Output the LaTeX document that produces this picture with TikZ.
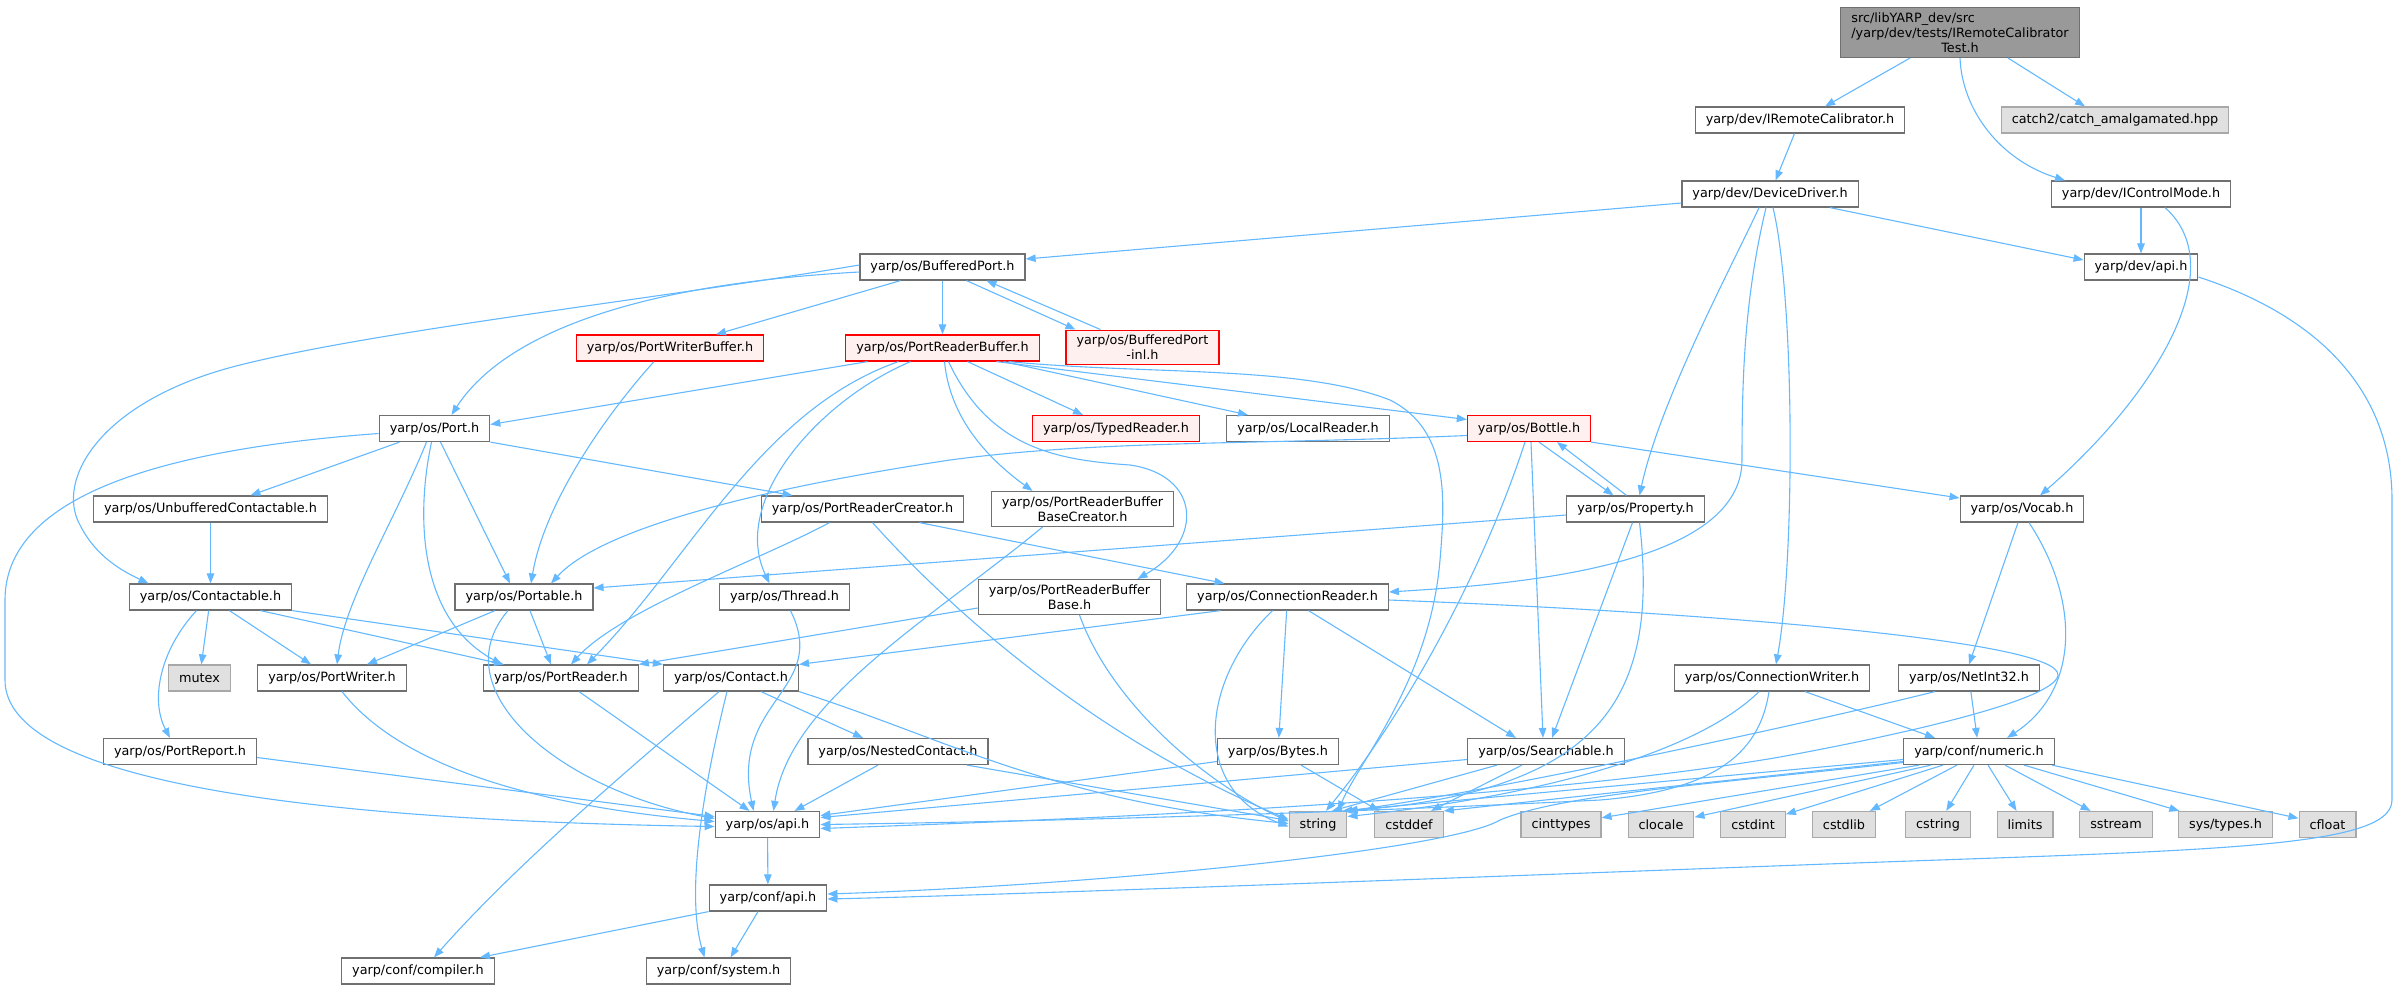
\documentclass[tikz,border=0pt]{standalone}
\usepackage{fontspec}
\setmainfont{DejaVu Sans}
\usetikzlibrary{arrows.meta}
\definecolor{edgeblue}{HTML}{63B8FF}
\definecolor{boxgray}{HTML}{707070}
\definecolor{extgray}{HTML}{A8A8A8}
\definecolor{extfill}{HTML}{E0E0E0}
\definecolor{rootfill}{HTML}{999999}
\definecolor{truncfill}{HTML}{FFF0F0}
\begin{document}
\begin{tikzpicture}[x=1pt, y=-1pt, >={Triangle[length=10pt,width=7.5pt]},
 file/.style={draw=boxgray, fill=white, line width=1.2pt, inner xsep=10.5pt, inner ysep=5pt,
   minimum height=26pt, align=center, font=\fontsize{12.8pt}{15pt}\selectfont},
 trunc/.style={file, draw=red, fill=truncfill},
 extfile/.style={file, draw=extgray, fill=extfill},
 rootfile/.style={file, fill=rootfill},
 dep/.style={draw=edgeblue, line width=1.1pt, ->}]
 \useasboundingbox (0,0) rectangle (2396,989);

 \node[rootfile] (root) at (1960,32.5) {\rlap{src/libYARP\_dev/src}\phantom{/yarp/dev/tests/IRemoteCalibrator}\\/yarp/dev/tests/IRemoteCalibrator\\Test.h};
 \node[file] (irc) at (1800,120) {yarp/dev/IRemoteCalibrator.h};
 \node[extfile] (catch2) at (2115,120) {catch2/catch\_amalgamated.hpp};
 \node[file] (dd) at (1770,194) {yarp/dev/DeviceDriver.h};
 \node[file] (icm) at (2141,194) {yarp/dev/IControlMode.h};
 \node[file] (devapi) at (2141,267) {yarp/dev/api.h};
 \node[file] (bport) at (942.5,267) {yarp/os/BufferedPort.h};
 \node[trunc] (pwbuffer) at (670,348) {yarp/os/PortWriterBuffer.h};
 \node[trunc] (prbuffer) at (942.5,348) {yarp/os/PortReaderBuffer.h};
 \node[trunc] (inl) at (1142.5,347.5) {yarp/os/BufferedPort\\-inl.h};
 \node[file] (port) at (434.5,428.5) {yarp/os/Port.h};
 \node[trunc] (typed) at (1116,428.5) {yarp/os/TypedReader.h};
 \node[file] (local) at (1308,428.5) {yarp/os/LocalReader.h};
 \node[trunc] (bottle) at (1529,428.5) {yarp/os/Bottle.h};
 \node[file] (unbuffered) at (210.5,509) {yarp/os/UnbufferedContactable.h};
 \node[file] (prcreator) at (862.5,509) {yarp/os/PortReaderCreator.h};
 \node[file] (bcreator) at (1082.5,509) {yarp/os/PortReaderBuffer\\BaseCreator.h};
 \node[file] (property) at (1635.5,509) {yarp/os/Property.h};
 \node[file] (vocab) at (2022,509) {yarp/os/Vocab.h};
 \node[file] (contactable) at (210.5,597) {yarp/os/Contactable.h};
 \node[file] (portable) at (524,597) {yarp/os/Portable.h};
 \node[file] (thread) at (784.5,597) {yarp/os/Thread.h};
 \node[file] (rbbase) at (1069.5,597) {yarp/os/PortReaderBuffer\\Base.h};
 \node[file] (creader) at (1287.5,597) {yarp/os/ConnectionReader.h};
 \node[extfile] (mutex) at (199.5,678) {mutex};
 \node[file] (pwriter) at (332,678) {yarp/os/PortWriter.h};
 \node[file] (preader) at (561,678) {yarp/os/PortReader.h};
 \node[file] (contact) at (731,678) {yarp/os/Contact.h};
 \node[file] (cwriter) at (1772,678) {yarp/os/ConnectionWriter.h};
 \node[file] (netint) at (1969,678) {yarp/os/NetInt32.h};
 \node[file] (portreport) at (180,751.5) {yarp/os/PortReport.h};
 \node[file] (nested) at (898,751.5) {yarp/os/NestedContact.h};
 \node[file] (bytes) at (1278,751.5) {yarp/os/Bytes.h};
 \node[file] (searchable) at (1546,751.5) {yarp/os/Searchable.h};
 \node[file] (numeric) at (1979,751.5) {yarp/conf/numeric.h};
 \node[file] (osapi) at (767.5,824.5) {yarp/os/api.h};
 \foreach \n/\x/\l in {string/1318/string, cstddef/1409/cstddef, cinttypes/1561/cinttypes,
   clocale/1661/clocale, cstdint/1753/cstdint, cstdlib/1844/cstdlib, cstring/1938/cstring,
   limits/2025/limits, sstream/2116/sstream, systypes/2225.5/{sys/types.h}, cfloat/2327.5/cfloat}
 {
     \node[extfile] (\n) at (\x,824.5) {\l};
 }
 \node[file] (confapi) at (768,898) {yarp/conf/api.h};
 \node[file] (compiler) at (418,971) {yarp/conf/compiler.h};
 \node[file] (system) at (718.5,971) {yarp/conf/system.h};

 \foreach \a/\b in {irc/dd, bport/prbuffer, icm/devapi, unbuffered/contactable,
   contactable/mutex, creader/bytes, netint/numeric, osapi/confapi}
 {
     \draw[dep] (\a) -- (\b);
 }
 \draw[dep] ([xshift=-50pt]root.south) -- ([xshift=25pt]irc.north);
 \draw[dep] ([xshift=48pt]root.south) -- ([xshift=-30pt]catch2.north);
 \draw[dep] (root.south) .. controls (1962,110) and (2000,160) .. ([xshift=-76pt]icm.north);

 \draw[dep] ([yshift=-9pt]dd.west) -- ([yshift=8pt]bport.east);
 \draw[dep] ([xshift=60pt]dd.south) -- ([yshift=7pt]devapi.west);
 \draw[dep] ([xshift=-11pt]dd.south) .. controls (1735,260) and (1660,400) .. ([xshift=4pt]property.north);
 \draw[dep] ([xshift=-4pt]dd.south) .. controls (1744,300) and (1742,380) .. (1742,460) .. controls (1742,570) and (1500,585) .. ([yshift=5pt]creader.east);
 \draw[dep] ([xshift=3pt]dd.south) .. controls (1795,300) and (1795,560) .. ([xshift=4pt]cwriter.north);
 \draw[dep] ([xshift=24pt]icm.south) .. controls (2235,270) and (2150,400) .. ([xshift=18pt]vocab.north);
 \draw[dep] ([yshift=-10pt]devapi.east) .. controls (2330,320) and (2392,400) .. (2392,500) -- (2392,800) .. controls (2392,850) and (2200,850) .. (1800,865) .. controls (1400,880) and (1000,895) .. ([yshift=-1pt]confapi.east);

 \draw[dep] ([yshift=2pt]bport.west) .. controls (650,300) and (380,330) .. (240,365) .. controls (100,400) and (55,480) .. (80,525) .. controls (95,555) and (120,570) .. ([xshift=-62pt]contactable.north);
 \draw[dep] ([yshift=-5pt]bport.west) .. controls (620,285) and (500,340) .. ([xshift=17pt]port.north);
 \draw[dep] ([xshift=-42pt]bport.south) -- ([xshift=46pt]pwbuffer.north);
 \draw[dep] ([xshift=24pt]bport.south) -- ([xshift=-67pt]inl.north);
 \draw[dep] ([xshift=-42pt]inl.north) -- ([xshift=44pt]bport.south);
 \draw[dep] ([xshift=-16pt]pwbuffer.south) .. controls (610,410) and (545,500) .. ([xshift=7pt]portable.north);

 \draw[dep] ([xshift=-75pt]prbuffer.south) -- ([yshift=4pt]port.east);
 \draw[dep] ([xshift=-44pt]prbuffer.south) .. controls (760,410) and (690,560) .. ([xshift=26pt]preader.north);
 \draw[dep] ([xshift=-32pt]prbuffer.south) .. controls (820,400) and (730,500) .. ([xshift=-15pt]thread.north);
 \draw[dep] ([xshift=2pt]prbuffer.south) .. controls (950,420) and (990,460) .. ([xshift=-50pt]bcreator.north);
 \draw[dep] ([xshift=6pt]prbuffer.south) .. controls (990,450) and (1060,460) .. (1130,465) .. controls (1200,475) and (1205,540) .. ([xshift=68pt]rbbase.north);
 \draw[dep] ([xshift=25pt]prbuffer.south) -- ([xshift=-33pt]typed.north);
 \draw[dep] ([xshift=61pt]prbuffer.south) -- ([xshift=-60pt]local.north);
 \draw[dep] ([xshift=54pt]prbuffer.south) -- ([yshift=9pt]bottle.west);
 \draw[dep] ([xshift=66pt]prbuffer.south) .. controls (1150,375) and (1300,365) .. (1390,400) .. controls (1450,430) and (1445,500) .. (1440,560) .. controls (1430,680) and (1360,760) .. ([xshift=20pt]string.north);

 \draw[dep] ([yshift=-5pt]port.west) .. controls (150,450) and (5,500) .. (5,600) -- (5,680) .. controls (5,780) and (300,820) .. ([yshift=-2pt]osapi.west);
 \draw[dep] ([xshift=-35pt]port.south) -- ([xshift=40pt]unbuffered.north);
 \draw[dep] ([xshift=-8pt]port.south) .. controls (395,520) and (345,600) .. ([xshift=5pt]pwriter.north);
 \draw[dep] ([xshift=-3pt]port.south) .. controls (415,520) and (420,620) .. ([xshift=-59pt]preader.north);
 \draw[dep] ([xshift=6pt]port.south) -- ([xshift=-14pt]portable.north);
 \draw[dep] (port.south east) -- ([xshift=-70pt]prcreator.north);

 \draw[dep] ([xshift=-14pt]contactable.south) .. controls (160,650) and (150,700) .. ([xshift=-10pt]portreport.north);
 \draw[dep] ([xshift=19pt]contactable.south) -- ([xshift=-21pt]pwriter.north);
 \draw[dep] ([xshift=50pt]contactable.south) -- ([xshift=-57pt]preader.north);
 \draw[dep] (contactable.south east) -- (contact.north west);
 \draw[dep] ([xshift=-29pt]portable.south) -- ([xshift=35pt]pwriter.north);
 \draw[dep] ([xshift=6pt]portable.south) -- ([xshift=-10pt]preader.north);
 \draw[dep] ([xshift=-16pt]portable.south) .. controls (440,690) and (560,790) .. ([yshift=6pt]osapi.west);
 \draw[dep] ([xshift=6pt]thread.south) .. controls (830,690) and (730,700) .. ([xshift=-14pt]osapi.north);

 \draw[dep] ([xshift=-33pt]prcreator.south) .. controls (760,560) and (620,610) .. ([xshift=10pt]preader.north);
 \draw[dep] ([xshift=10pt]prcreator.south) .. controls (960,620) and (1100,740) .. ([yshift=5pt]string.west);
 \draw[dep] ([xshift=57pt]prcreator.south) -- ([xshift=-63pt]creader.north);
 \draw[dep] ([xshift=-40pt]bcreator.south) .. controls (930,620) and (790,700) .. ([xshift=6pt]osapi.north);
 \draw[dep] ([yshift=-11pt]rbbase.west) -- (preader.north east);
 \draw[dep] ([xshift=10pt]rbbase.south) .. controls (1110,700) and (1200,780) .. ([yshift=3pt]string.west);

 \draw[dep] ([xshift=-67pt]creader.south) -- (contact.north east);
 \draw[dep] ([xshift=-15pt]creader.south) .. controls (1200,680) and (1190,790) .. ([yshift=-2pt]string.west);
 \draw[dep] ([xshift=21pt]creader.south) -- ([xshift=-30pt]searchable.north);
 \draw[dep] ([yshift=-3pt]creader.east) .. controls (1700,612) and (2060,640) .. (2058,675) .. controls (2056,700) and (1900,735) .. (1780,757) .. controls (1500,805) and (1000,822) .. ([yshift=-4pt]osapi.east);

 \draw[dep] ([xshift=33pt]cwriter.south) -- ([xshift=-44pt]numeric.north);
 \draw[dep] ([xshift=-13pt]cwriter.south) .. controls (1700,750) and (1550,795) .. ([yshift=8pt]string.east);
 \draw[dep] ([xshift=-3pt]cwriter.south) .. controls (1760,750) and (1720,790) .. (1600,800) .. controls (1300,815) and (1000,822) .. (osapi.east);
 \draw[dep] ([xshift=-34pt]netint.south) .. controls (1800,725) and (1500,790) .. (string.north east);
 \draw[dep] ([xshift=-4pt]vocab.south) -- (netint.north);
 \draw[dep] ([xshift=7pt]vocab.south) .. controls (2080,600) and (2080,690) .. ([xshift=28pt]numeric.north);

 \draw[dep] ([yshift=-8pt]searchable.west) -- ([yshift=7pt]osapi.east);
 \draw[dep] ([xshift=-49pt]searchable.south) -- ([xshift=14pt]string.north);
 \draw[dep] ([xshift=-24pt]searchable.south) -- ([xshift=22pt]cstddef.north);
 \draw[dep] ([yshift=-10pt]bytes.west) -- ([yshift=9pt]osapi.east);
 \draw[dep] ([xshift=23pt]bytes.south) -- ([xshift=-30pt]cstddef.north);
 \draw[dep] ([xshift=-20pt]nested.south) -- ([xshift=27pt]osapi.north);
 \draw[dep] ([xshift=69pt]nested.south) -- ([yshift=4pt]string.west);
 \draw[dep] ([xshift=30pt]contact.south) -- ([xshift=-35pt]nested.north);
 \draw[dep] ([xshift=-12pt]contact.south) .. controls (640,760) and (520,860) .. ([xshift=16pt]compiler.north);
 \draw[dep] ([xshift=-4pt]contact.south) .. controls (705,780) and (685,890) .. ([xshift=-14pt]system.north);
 \draw[dep] (contact.south east) .. controls (950,740) and (1050,800) .. ([yshift=1pt]string.west);
 \draw[dep] ([yshift=-6pt]portreport.east) -- ([yshift=8pt]osapi.west);
 \draw[dep] ([xshift=10pt]pwriter.south) .. controls (380,740) and (470,800) .. ([yshift=3pt]osapi.west);
 \draw[dep] ([xshift=18pt]preader.south) -- ([xshift=-18pt]osapi.north);
 \draw[dep] (confapi.south west) -- ([xshift=62pt]compiler.north);
 \draw[dep] ([xshift=-10pt]confapi.south) -- ([xshift=12pt]system.north);

 \draw[dep] ([yshift=-11pt]numeric.west) .. controls (1700,785) and (1560,795) .. (1500,820) .. controls (1450,850) and (1100,885) .. ([yshift=4pt]confapi.east);
 \draw[dep] ([yshift=-8pt]numeric.west) -- ([xshift=-5pt]string.north east);
 \draw[dep] ([yshift=-10pt]numeric.west) -- (cstddef.north east);
 \foreach \t/\s in {cinttypes/-60, clocale/-48, cstdint/-36, cstdlib/-22, cstring/-5,
   limits/9, sstream/26, systypes/45, cfloat/73}
 {
     \draw[dep] ([xshift=\s pt]numeric.south) -- (\t);
 }

 \draw[dep] ([yshift=-7pt]bottle.west) .. controls (1250,445) and (1100,440) .. (950,460) .. controls (750,490) and (600,530) .. ([xshift=27pt]portable.north);
 \draw[dep] ([xshift=10pt]bottle.south) -- ([xshift=-22pt]property.north);
 \draw[dep] ([xshift=-9pt]property.north) -- ([xshift=28pt]bottle.south);
 \draw[dep] ([xshift=2pt]bottle.south) -- ([xshift=-3pt]searchable.north);
 \draw[dep] ([xshift=-4pt]bottle.south) .. controls (1480,580) and (1400,720) .. ([xshift=8pt]string.north);
 \draw[dep] (bottle.south east) -- ([yshift=11pt]vocab.west);
 \draw[dep] ([yshift=-6pt]property.west) -- ([yshift=9pt]portable.east);
 \draw[dep] ([xshift=-3pt]property.south) -- ([xshift=6pt]searchable.north);
 \draw[dep] ([xshift=4pt]property.south) .. controls (1660,700) and (1600,790) .. (string.north east);
\end{tikzpicture}
\end{document}
